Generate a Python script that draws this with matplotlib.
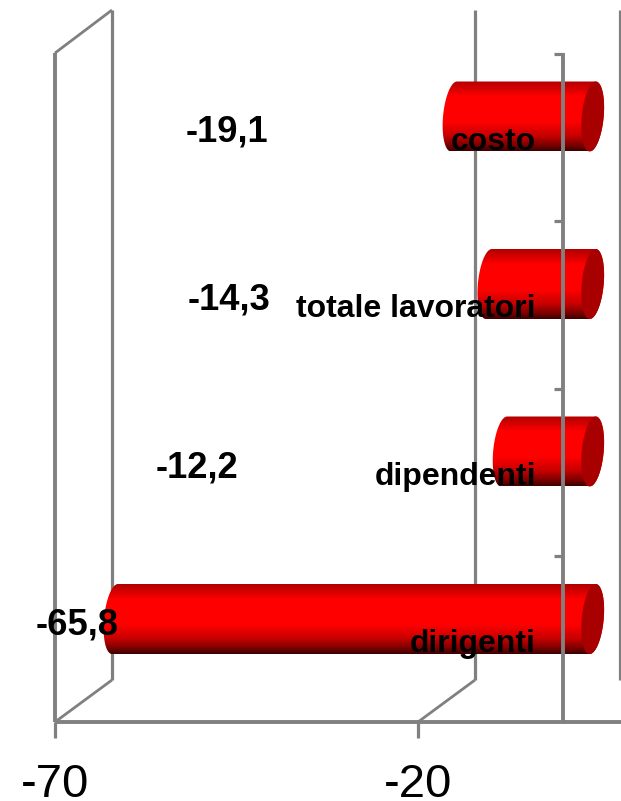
import numpy as np
import matplotlib
matplotlib.use("Agg")
import matplotlib.pyplot as plt
from matplotlib.patches import PathPatch
from matplotlib.path import Path
from matplotlib.transforms import Affine2D
from matplotlib.colors import LinearSegmentedColormap

categories = ["dirigenti", "dipendenti", "totale lavoratori", "costo"]
values = [-65.8, -12.2, -14.3, -19.1]
value_labels = ["-65,8", "-12,2", "-14,3", "-19,1"]
x_ticks = [-70, -20]
x_tick_labels = ["-70", "-20"]

W, H = 621, 801
plt.rcParams["font.family"] = ["Liberation Sans", "DejaVu Sans"]
fig = plt.figure(figsize=(W / 100, H / 100), dpi=100, facecolor="white")
ax = fig.add_axes([0, 0, 1, 1])
ax.axis("off")

# scale: -70 at px 55, -20 at px 418; category 0 at py 619, spacing 167.5
PXU = (418 - 55) / 50
PYC = 167.5
xlim = (-70 - 55 / PXU, -70 + (W - 55) / PXU)
ylim = ((619 - H) / PYC, 619 / PYC)
ax.set_xlim(xlim)
ax.set_ylim(ylim)

pix = Affine2D().scale(1, -1).translate(0, H)   # px coordinates, y from top
GRAY = "#808080"


def xp(v):
    return ax.transData.transform((v, 0))[0]


def yp(i):
    return H - ax.transData.transform((0, i))[1]


def line(xs, ys, lw=2.0, z=1):
    ax.plot(xs, ys, color=GRAY, lw=lw, transform=pix, solid_capstyle="butt",
            solid_joinstyle="miter", zorder=z, clip_on=False)


DEPTH = 57
FLOOR, BACKFLOOR = 722, 680
TOP_FRONT, TOP_BACK = 53, 10

# walls and gridlines
x0 = xp(x_ticks[0])
line([x0, x0], [TOP_FRONT, FLOOR], lw=2.8)
line([x0, x0 + DEPTH], [TOP_FRONT, TOP_BACK], lw=2.0)
for t in x_ticks + [0]:
    xb = xp(t) + DEPTH
    line([xb, xb], [TOP_BACK, BACKFLOOR], lw=2.3)
for t in x_ticks:
    xb = xp(t)
    line([xb, xb + DEPTH], [FLOOR, BACKFLOOR], lw=2.0)
    line([xb, xb], [FLOOR, 738], lw=2.3)
    ax.text(xb + 0.5, 797, x_tick_labels[x_ticks.index(t)], transform=pix, ha="center",
            va="baseline", fontsize=34.0, color="black")
line([x0, W], [FLOOR, FLOOR], lw=2.8)

# cylinders
cmap = LinearSegmentedColormap.from_list(
    "cyl", [(0, "#b00000"), (0.22, "#ff0000"), (0.58, "#ff0000"),
            (0.78, "#c80000"), (0.92, "#780000"), (1, "#3a0000")])
grad = np.linspace(0, 1, 256).reshape(-1, 1)
OFF = 29.5 / PXU       # half-depth shift of the bar centre line
A = 11.0 / PXU         # cap half-width
S = 3.0 / PXU          # cap skew
B = 35 / PYC           # half height
for i, v in enumerate(values):
    xl, xr = v + OFF, OFF
    t1 = np.linspace(np.pi / 2, 3 * np.pi / 2, 50)
    lx = xl + A * np.cos(t1) + S * np.sin(t1)
    ly = i + B * np.sin(t1)
    t2 = np.linspace(-np.pi / 2, np.pi / 2, 50)
    rx = xr + A * np.cos(t2) + S * np.sin(t2)
    ry = i + B * np.sin(t2)
    pts = np.column_stack([np.r_[lx, rx], np.r_[ly, ry]])
    body = PathPatch(Path(np.vstack([pts, pts[0]]), closed=True), fc="none", ec="none",
                     transform=ax.transData)
    ax.add_patch(body)
    im = ax.imshow(grad, cmap=cmap, aspect="auto", origin="upper", interpolation="bilinear",
                   extent=(xl - 2 * A - S, xr + 2 * A + S, i - B, i + B), zorder=2)
    im.set_clip_path(body)
    t3 = np.linspace(0, 2 * np.pi, 100)
    cap = np.column_stack([xr + A * np.cos(t3) + S * np.sin(t3), i + B * np.sin(t3)])
    ax.fill(cap[:, 0], cap[:, 1], color="#a80000", lw=0, zorder=2.5)
ax.set_xlim(xlim)
ax.set_ylim(ylim)

# front value axis at zero, over the bars
xz = xp(0)
line([xz, xz], [TOP_FRONT, FLOOR], lw=2.8, z=3)
for i in range(len(categories)):
    ty = yp(i) - 63
    line([xz - 9, xz], [ty, ty], lw=2.3, z=3)

# text labels
label_y_off = 25
for i, c in enumerate(categories):
    ax.text(536, yp(i) + label_y_off, c, transform=pix, ha="right", va="center",
            fontsize=23, fontweight="bold", color="black", zorder=4)
value_px = [(77, 625), (197, 468), (229, 300), (227, 132)]
for (px_, py_), s in zip(value_px, value_labels):
    ax.text(px_, py_, s, transform=pix, ha="center", va="center",
            fontsize=26.2, fontweight="bold", color="black", zorder=4)

fig.savefig("out.png", dpi=100, facecolor="white")
